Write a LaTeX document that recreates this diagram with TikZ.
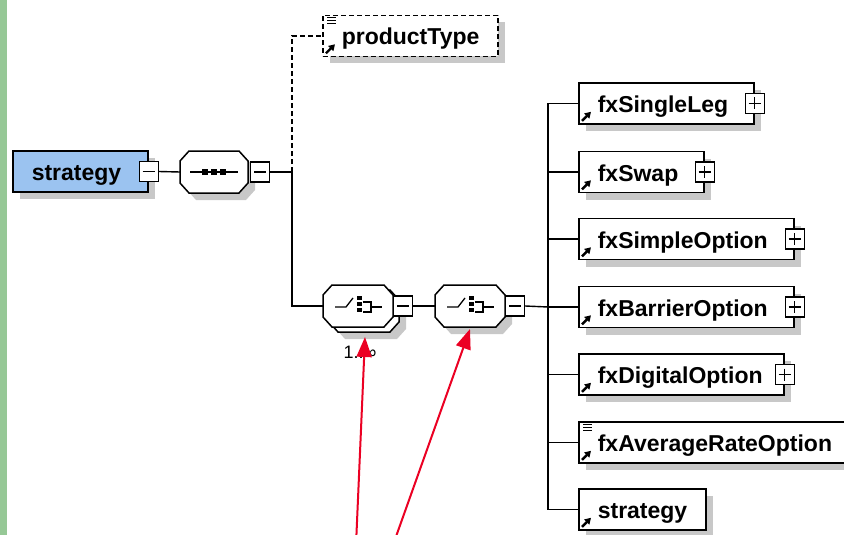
\documentclass[tikz,border=0pt]{standalone}
\usepackage{fontspec}
\setsansfont{Liberation Sans}
\usetikzlibrary{shadows, arrows.meta, calc, positioning}
\definecolor{rootblue}{RGB}{155,195,240}
\definecolor{stripgreen}{RGB}{150,200,150}
\definecolor{pointer}{RGB}{235,0,35}
\definecolor{shadowgray}{RGB}{200,200,200}
\tikzset{
  boxshadow/.style={drop shadow={shadow xshift=7pt, shadow yshift=-7pt, fill=shadowgray, opacity=1}},
  elem/.style={draw, line width=1.6pt, fill=white, rectangle, anchor=west, minimum height=41pt,
    inner xsep=0pt, inner ysep=0pt, text height=22pt, text depth=4pt,
    font=\sffamily\bfseries\fontsize{23}{26}\selectfont, boxshadow},
  compositor/.style={rectangle, minimum height=42pt, inner sep=0pt, outer sep=0pt},
  pmbox/.style={draw, line width=1.2pt, fill=white, minimum width=19pt, minimum height=20pt, inner sep=0pt},
  link/.style={line width=1.4pt},
  refarrow/.style={line width=2.4pt, -{Triangle[length=6pt,width=7pt]}},
  pointerarrow/.style={pointer, line width=2pt, -{Triangle[length=20pt,width=15pt]}},
}
\newcommand{\elemtext}[2]{\makebox[#1][l]{\hspace{19pt}#2}}
\newcommand{\minussign}[1]{\draw[line width=1.2pt] ($(#1.center)+(-6,0)$) -- ($(#1.center)+(6,0)$);}
\newcommand{\plussign}[1]{\minussign{#1}\draw[line width=1.2pt] ($(#1.center)+(0,-6)$) -- ($(#1.center)+(0,6)$);}
\newcommand{\refmark}[1]{\draw[refarrow] ($(#1.south west)+(4,-4)$) -- ++(9,-9);}
\newcommand{\docmark}[1]{\foreach \k in {3,6,9} {\draw[line width=1pt] ($(#1.north west)+(5,\k)$) -- ++(9,0);}}
% octagon outline round an empty compositor node, #2 = half width
\newcommand{\octpath}[1]{(-#1+9,-21) -- (#1-9,-21) -- (#1,-11) -- (#1,11) -- (#1-9,21) -- (-#1+9,21) -- (-#1,11) -- (-#1,-11) -- cycle}
\newcommand{\octshadow}[2]{%
  \begin{scope}[shift={(#1.center)}]
    \begin{scope}[shift={(7,7)}]\fill[shadowgray] \octpath{#2};\end{scope}
  \end{scope}}
\newcommand{\octline}[2]{%
  \begin{scope}[shift={(#1.center)}]
    \draw[line width=1.5pt, fill=white] \octpath{#2};
  \end{scope}}
\newcommand{\octagon}[2]{\octshadow{#1}{#2}\octline{#1}{#2}}

\begin{document}
\begin{tikzpicture}[x=1pt,y=-1pt]
\fill[white] (0,0) rectangle (844,535);
\useasboundingbox (0,0) rectangle (844,535);
\clip (0,0) rectangle (844,535);
\fill[stripgreen] (0,0) rectangle (7,535);

% root element and sequence
\node[elem, fill=rootblue] (root) at (12,171.5) {\elemtext{135pt}{strategy}};
\node[pmbox] (rootm) at (root.east) {};
\minussign{rootm}
\node[compositor, minimum width=68pt] (seq) at (214,172) {};
\octagon{seq}{34}
\node[pmbox, anchor=west] (seqm) at ($(seq.east)+(2,0)$) {};
\minussign{seqm}
\draw[link] ($(seq.center)+(-24,0)$) -- ($(seq.center)+(24,0)$);
\foreach \dx in {-9,0,9} {\fill ($(seq.center)+(\dx-3,-3)$) rectangle ++(6,6);}

% optional productType
\node[elem, dashed, dash pattern=on 5pt off 3pt] (ptype) at (322,36) {\elemtext{175pt}{productType}};
\docmark{ptype}
\refmark{ptype}

% choices (the first one repeats: a second outline behind it)
\node[compositor, minimum width=70pt] (ch1b) at (364,311) {};
\node[compositor, minimum width=70pt] (ch1) at (358,306) {};
\octshadow{ch1b}{35}
\octline{ch1b}{35}
\octline{ch1}{35}
\node[pmbox, anchor=west] (ch1m) at (ch1.east) {};
\minussign{ch1m}
\node[font=\sffamily\fontsize{18}{20}\selectfont] (mult) at (360,352) {1..∞};
\node[compositor, minimum width=70pt] (ch2) at (470,306) {};
\octagon{ch2}{35}
\node[pmbox, anchor=west] (ch2m) at (ch2.east) {};
\minussign{ch2m}
\foreach \c in {ch1,ch2}{
  \begin{scope}[shift={(\c.center)}]
    \draw[line width=1.3pt] (-23,1) -- (-12,1) -- (-5,-8);
    \foreach \dy in {-10,-4,2} {\fill (-1,\dy) rectangle ++(5,4);}
    \draw[line width=1.3pt] (5,-4) -- (13,-4) -- (13,6) -- (5,6);
    \draw[line width=1.3pt] (13,1) -- (24,1);
  \end{scope}
}

% children
\node[elem] (single) at (578,103.5) {\elemtext{175pt}{fxSingleLeg}};
\node[pmbox] (singlep) at (single.east) {};
\node[elem] (swap) at (578,172) {\elemtext{125pt}{fxSwap}};
\node[pmbox] (swapp) at (swap.east) {};
\node[elem] (simple) at (578,239) {\elemtext{215pt}{fxSimpleOption}};
\node[pmbox] (simplep) at (simple.east) {};
\node[elem] (barrier) at (578,307) {\elemtext{215pt}{fxBarrierOption}};
\node[pmbox] (barrierp) at (barrier.east) {};
\node[elem] (digital) at (578,374.5) {\elemtext{205pt}{fxDigitalOption}};
\node[pmbox] (digitalp) at (digital.east) {};
\node[elem] (average) at (578,442.5) {\elemtext{275pt}{fxAverageRateOption}};
\node[elem] (substrat) at (578,509.5) {\elemtext{127pt}{strategy}};
\foreach \p in {singlep,swapp,simplep,barrierp,digitalp} {\plussign{\p}}
\foreach \n in {single,swap,simple,barrier,digital,average,substrat} {\refmark{\n}}
\docmark{average}

% connectors
\coordinate (j1) at (292,172);
\coordinate (j2) at (548,307);
\draw[link] (rootm.east) -- (seq.west);
\draw[link] (seqm.east) -- (j1);
\draw[link, dashed, dash pattern=on 5pt off 3pt] (j1) |- (ptype.west);
\draw[link] (j1) |- (ch1.west);
\draw[link] (ch1m.east) -- (ch2.west);
\draw[link] (ch2m.east) -- (j2);
\foreach \n in {single,swap,simple,barrier,digital,average,substrat} {\draw[link] (j2) |- (\n.west);}

% red pointers
\coordinate (tailA) at (356,545);
\coordinate (tipA) at (365,337);
\coordinate (tailB) at (393,545);
\coordinate (tipB) at (470,329);
\draw[pointerarrow] (tailA) -- (tipA);
\draw[pointerarrow] (tailB) -- (tipB);
\end{tikzpicture}
\end{document}
